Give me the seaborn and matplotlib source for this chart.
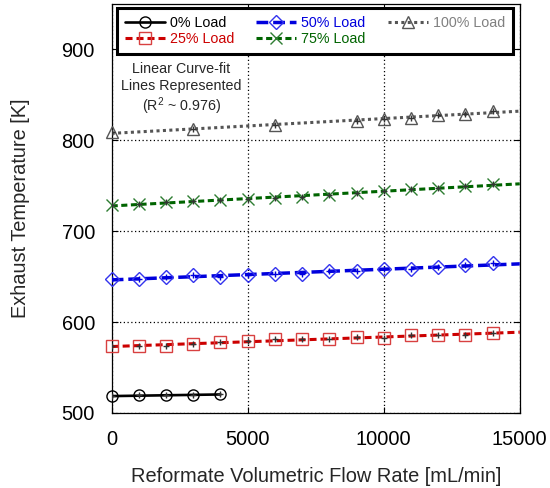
import numpy as np
import pandas as pd
import matplotlib
matplotlib.use("Agg")
import matplotlib.pyplot as plt
from matplotlib.lines import Line2D
import seaborn as sns

# Measured exhaust temperatures [K] versus reformate flow rate [mL/min]
flow_0 = [0, 1000, 2000, 3000, 4000]
temp_0 = [518.3, 519.4, 519.7, 519.7, 520.4]

flow_25 = [0, 1000, 2000, 3000, 4000, 5000, 6000, 7000, 8000, 9000, 10000, 11000, 12000, 13000, 14000]
temp_25 = [573.4, 573.7, 573.7, 575.6, 577.8, 579.2, 581.1, 581.1, 581.1, 583.6, 582.5, 585.4, 585.8, 585.8, 587.6]

flow_50 = [0, 1000, 2000, 3000, 4000, 5000, 6000, 7000, 8000, 9000, 10000, 11000, 12000, 13000, 14000]
temp_50 = [647.8, 647.8, 649.2, 651.4, 649.6, 651.4, 653.3, 653.3, 656.1, 656.0, 658.7, 658.0, 660.5, 662.4, 664.9]

flow_75 = [0, 1000, 2000, 3000, 4000, 5000, 6000, 7000, 8000, 9000, 10000, 11000, 12000, 13000, 14000]
temp_75 = [729.2, 730.3, 731.7, 732.8, 733.9, 735.4, 736.5, 737.6, 739.4, 741.6, 744.2, 746.0, 747.8, 749.6, 751.9]

flow_100 = [0, 3000, 6000, 9000, 10000, 11000, 12000, 13000, 14000]
temp_100 = [808.8, 813.0, 816.4, 821.0, 823.0, 825.0, 827.7, 829.5, 832.0]

labels = ["0% Load", "25% Load", "50% Load", "75% Load", "100% Load"]
fit_end = [4000, 15000, 15000, 15000, 15000]

sns.set_theme(style="ticks")
plt.rcParams["font.family"] = ["Liberation Sans", "DejaVu Sans"]
plt.rcParams["mathtext.fontset"] = "custom"
plt.rcParams["mathtext.rm"] = "Liberation Sans"

series = [
    # (flows, temps, line colour, marker colour, text colour, marker, linewidth, dash pattern)
    (flow_0, temp_0, "black", "black", "black", "o", 1.9, "-"),
    (flow_25, temp_25, "#cc0000", "#d84040", "#cc0000", "s", 2.2, (0, (2.3, 1.3))),
    (flow_50, temp_50, "#0000dd", "#3333ee", "#0000dd", "D", 2.5, (0, (3.4, 1.4))),
    (flow_75, temp_75, "#006400", "#2e7d32", "#006400", "x", 2.2, (0, (2.0, 1.15))),
    (flow_100, temp_100, "#555555", "#555555", "#808080", "^", 2.2, (0, (1.0, 1.1))),
]
marker_sizes = {"o": 8, "s": 8.5, "D": 7, "x": 8.5, "^": 8.5}

fig = plt.figure(figsize=(5.5, 4.88), dpi=100)
ax = fig.add_axes([0.203, 0.1537, 0.742, 0.838])

handles = []
for (fx, ty, lc, mc, tc, mk, lw, ls), lab, xend in zip(series, labels, fit_end):
    fx = np.asarray(fx, dtype=float)
    ty = np.asarray(ty, dtype=float)
    slope, icpt = np.polyfit(fx, ty, 1)
    xf = np.array([0.0, xend])
    fit = pd.DataFrame({"flow": xf, "temp": icpt + slope * xf})
    sns.lineplot(data=fit, x="flow", y="temp", ax=ax, color=lc, linewidth=lw,
                 linestyle=ls, legend=False, zorder=3)
    ax.lines[-1].set_dash_capstyle("butt")
    ax.plot(fx, ty, linestyle="none", marker=mk, markersize=marker_sizes[mk],
            markerfacecolor="none", markeredgecolor=mc, markeredgewidth=1.0,
            zorder=4, clip_on=False)
    ax.plot(fx, ty, linestyle="none", marker="+", markersize=4.5,
            markeredgecolor="#333333" if mk != "D" else lc, markeredgewidth=1.0, zorder=5)
    handles.append(Line2D([], [], color=lc, linewidth=lw, linestyle=ls, marker=mk,
                          markersize=marker_sizes[mk], markerfacecolor="none",
                          markeredgecolor=mc, markeredgewidth=1.0))

ax.set_xlim(0, 15000)
ax.set_ylim(500, 950)
ax.set_xticks([0, 5000, 10000, 15000])
ax.set_yticks([500, 600, 700, 800, 900])
ax.grid(True, linestyle=(0, (1, 2)), color="black", linewidth=0.9)
ax.tick_params(direction="in", length=4, width=0.8, labelsize=14.4, top=True, right=True,
               colors="black")
ax.tick_params(axis="y", pad=12)
ax.tick_params(axis="x", pad=12)
for sp in ax.spines.values():
    sp.set_linewidth(0.9)
    sp.set_color("black")
ax.set_xlabel("Reformate Volumetric Flow Rate [mL/min]", fontsize=14.4, labelpad=13)
ax.set_ylabel("Exhaust Temperature [K]", fontsize=14.4, labelpad=23)

leg = ax.legend(handles, labels, ncol=3, loc="upper left", bbox_to_anchor=(0.013, 0.99),
                fontsize=10.3, frameon=True, fancybox=False, handlelength=2.8,
                handletextpad=0.35, columnspacing=1.55, labelspacing=0.15,
                borderpad=0.55, numpoints=1, borderaxespad=0)
leg.get_frame().set_edgecolor("black")
leg.get_frame().set_linewidth(2.2)
leg.get_frame().set_alpha(1)
for txt, (_, _, _, _, tc, _, _, _) in zip(leg.get_texts(), series):
    txt.set_color(tc)

ax.text(2550, 878, "Linear Curve-fit", ha="center", va="center", fontsize=10.3)
ax.text(2550, 860, "Lines Represented", ha="center", va="center", fontsize=10.3)
ax.text(2550, 838, "(R$^2$ ~ 0.976)", ha="center", va="center", fontsize=10.3)

fig.savefig("out.png", dpi=100)
